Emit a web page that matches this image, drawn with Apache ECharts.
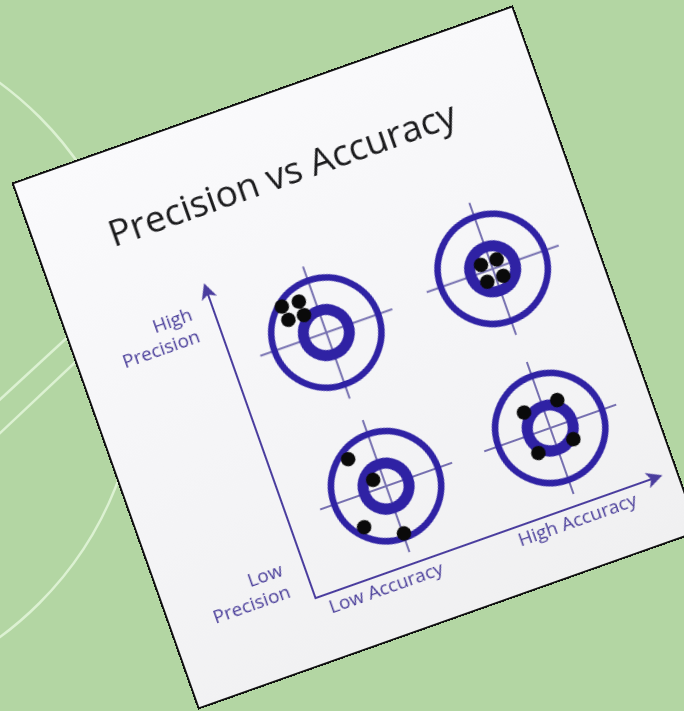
<!DOCTYPE html>
<html>
<head>
<meta charset="utf-8">
<script src="https://cdn.jsdelivr.net/npm/echarts@6.0.0/dist/echarts.min.js"></script>
<style>
html,body{margin:0;padding:0;width:684px;height:711px;overflow:hidden;background:#b3d6a3;}
#bg{position:absolute;left:0;top:0;width:684px;height:711px;}
#paper{position:absolute;left:14px;top:184px;width:528px;height:555px;transform-origin:0 0;transform:rotate(-19.5deg);
  background:linear-gradient(170deg,#fafafc 0%,#f4f4f6 60%,#f0f0f1 100%);box-shadow:0 0 0 2px #111;}
#chart{position:absolute;left:0;top:0;width:528px;height:555px;}
</style>
</head>
<body>
<div id="bg"></div>
<div id="paper"><div id="chart"></div></div>
<script>
// ---- data ----
const titleText = 'Precision vs Accuracy';
const targetNames = ['Low Accuracy, High Precision', 'High Accuracy, High Precision', 'Low Accuracy, Low Precision', 'High Accuracy, Low Precision'];
const targetCenters = [[2.73, 7.52], [7.65, 7.66], [2.87, 2.50], [7.68, 2.50]];
const hitsLowAccHighPrec = [[1.81, 8.72], [2.30, 8.69], [1.86, 8.27], [2.31, 8.25]];
const hitsHighAccHighPrec = [[7.38, 7.89], [7.84, 7.89], [7.39, 7.34], [7.86, 7.35]];
const hitsLowAccLowPrec = [[2.13, 3.66], [2.59, 2.81], [1.92, 1.54], [2.90, 0.96]];
const hitsHighAccLowPrec = [[7.14, 3.21], [8.12, 3.23], [8.18, 1.94], [7.14, 1.90]];
const xTickValues = [1.93, 7.54];
const xTickLabels = ['Low Accuracy', 'High Accuracy'];
const yTickValues = [0.78, 9.05];
const yTickLabels = ['Low\nPrecision', 'High\nPrecision'];

// ---- styles ----
const ringColor = '#2f22a4';
const crossColor = '#7670b0';
const axisColor = '#4a3d9e';
const labelColor = '#4a3e9a';
const FONT = '"Open Sans", "Noto Sans", sans-serif';

function nearestLabel(values, labels, v) {
  let best = 0, bd = Infinity;
  values.forEach((x, i) => { const d = Math.abs(x - v); if (d < bd) { bd = d; best = i; } });
  return labels[best];
}

// background decoration
const bg = echarts.init(document.getElementById('bg'), null, {renderer: 'canvas'});
bg.setOption({
  backgroundColor: 'transparent',
  graphic: [
    {type: 'circle', shape: {cx: -204, cy: 360, r: 344}, style: {fill: 'none', stroke: '#dcf1d2', lineWidth: 2.5}},
    {type: 'line', shape: {x1: -20, y1: 418, x2: 110, y2: 298}, style: {stroke: '#dcf1d2', lineWidth: 2.5}},
    {type: 'line', shape: {x1: -20, y1: 452, x2: 120, y2: 320}, style: {stroke: '#dcf1d2', lineWidth: 2.5}}
  ]
});

const chart = echarts.init(document.getElementById('chart'), null, {renderer: 'canvas'});
const dotStyle = {color: '#0a0a0a', opacity: 1};
chart.setOption({
  backgroundColor: 'transparent',
  animation: false,
  title: {
    text: titleText,
    left: 68, top: 59,
    textStyle: {fontFamily: FONT, fontSize: 37, fontWeight: 'normal', color: '#1a1a1c'}
  },
  grid: {left: 146, top: 163, width: 362, height: 328},
  xAxis: {
    type: 'value', min: 0, max: 10,
    splitLine: {show: false}, axisTick: {show: false},
    axisLine: {show: true, symbol: ['none', 'arrow'], symbolSize: [12, 16], symbolOffset: [0, 6],
      lineStyle: {color: axisColor, width: 2}},
    axisLabel: {customValues: xTickValues, margin: 5, color: labelColor, fontFamily: FONT, fontSize: 19,
      formatter: v => nearestLabel(xTickValues, xTickLabels, v)}
  },
  yAxis: {
    type: 'value', min: 0, max: 10,
    splitLine: {show: false}, axisTick: {show: false},
    axisLine: {show: true, symbol: ['none', 'arrow'], symbolSize: [12, 16], symbolOffset: [0, 6],
      lineStyle: {color: axisColor, width: 2}},
    axisLabel: {customValues: yTickValues, margin: 22, color: labelColor, fontFamily: FONT, fontSize: 19,
      lineHeight: 23, align: 'right',
      formatter: v => nearestLabel(yTickValues, yTickLabels, v)}
  },
  series: [
    {
      type: 'custom', name: 'targets', z: 2,
      data: targetCenters.map((c, i) => ({name: targetNames[i], value: c})),
      encode: {x: 0, y: 1},
      renderItem: function (params, api) {
        const c = api.coord([api.value(0), api.value(1)]);
        const L = 70;
        return {
          type: 'group',
          children: [
            {type: 'line', shape: {x1: c[0] - L, y1: c[1], x2: c[0] + L, y2: c[1]}, style: {stroke: crossColor, lineWidth: 2}},
            {type: 'line', shape: {x1: c[0], y1: c[1] - L, x2: c[0], y2: c[1] + L}, style: {stroke: crossColor, lineWidth: 2}},
            {type: 'circle', shape: {cx: c[0], cy: c[1], r: 55}, style: {fill: 'none', stroke: ringColor, lineWidth: 6.5}},
            {type: 'circle', shape: {cx: c[0], cy: c[1], r: 23}, style: {fill: 'none', stroke: ringColor, lineWidth: 11}}
          ]
        };
      }
    },
    {type: 'scatter', name: 'Low Accuracy, High Precision', z: 5, data: hitsLowAccHighPrec, symbolSize: 14.5, itemStyle: dotStyle},
    {type: 'scatter', name: 'High Accuracy, High Precision', z: 5, data: hitsHighAccHighPrec, symbolSize: 14.5, itemStyle: dotStyle},
    {type: 'scatter', name: 'Low Accuracy, Low Precision', z: 5, data: hitsLowAccLowPrec, symbolSize: 14.5, itemStyle: dotStyle},
    {type: 'scatter', name: 'High Accuracy, Low Precision', z: 5, data: hitsHighAccLowPrec, symbolSize: 14.5, itemStyle: dotStyle}
  ]
});
</script>
</body>
</html>
